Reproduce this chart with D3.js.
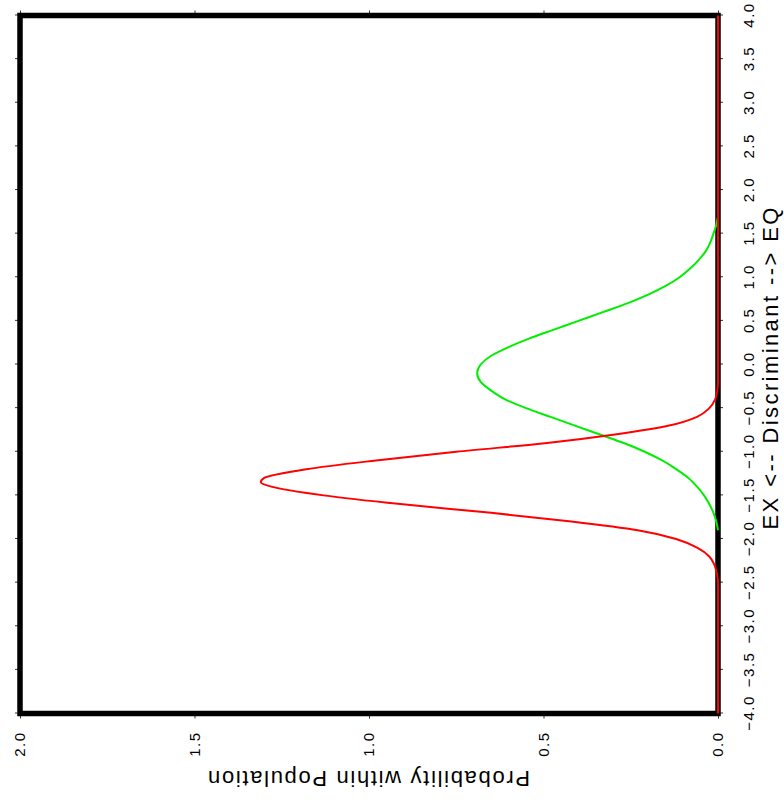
<!DOCTYPE html>
<html>
<head>
<meta charset="utf-8">
<script src="https://cdn.jsdelivr.net/npm/d3@7"></script>
<style>
  body { margin: 0; background: #fff; }
  text { font-family: "Liberation Sans", Arial, sans-serif; fill: #000; }
</style>
</head>
<body>
<div id="content"></div>
<script>
// discriminant positions / probability
var redX = [-4.0, -2.5, -2.4, -2.3, -2.2, -2.1, -2.0, -1.9, -1.8, -1.7, -1.6, -1.5, -1.4, -1.35, -1.3, -1.2, -1.1, -1.0, -0.9, -0.8, -0.7, -0.6, -0.5, -0.4, -0.3, -0.2, 4.0];
var redY = [0, 0, 0.003, 0.01, 0.025, 0.06, 0.12, 0.23, 0.42, 0.65, 0.91, 1.13, 1.28, 1.31, 1.30, 1.18, 0.98, 0.75, 0.49, 0.29, 0.14, 0.06, 0.025, 0.008, 0.002, 0, 0];

var greenX = [-1.9, -1.8, -1.7, -1.6, -1.5, -1.4, -1.3, -1.2, -1.1, -1.0, -0.9, -0.8, -0.7, -0.6, -0.5, -0.4, -0.3, -0.2, -0.1, 0.0, 0.1, 0.2, 0.3, 0.4, 0.5, 0.6, 0.7, 0.8, 0.9, 1.0, 1.1, 1.2, 1.3, 1.4, 1.5, 1.6, 1.7];
var greenY = [0, 0.005, 0.013, 0.025, 0.04, 0.06, 0.085, 0.12, 0.16, 0.21, 0.27, 0.34, 0.41, 0.48, 0.55, 0.61, 0.65, 0.68, 0.69, 0.68, 0.65, 0.60, 0.54, 0.47, 0.40, 0.33, 0.26, 0.20, 0.15, 0.11, 0.08, 0.055, 0.035, 0.022, 0.013, 0.005, 0];

var xTicks = d3.range(-4, 4.01, 0.5);
var yTicks = [0, 0.5, 1.0, 1.5, 2.0];
var xTitle = 'EX <--  Discriminant  --> EQ';
var yTitle = 'Probability within Population';

var W = 698, H = 698;
var svg = d3.select('#content').append('svg')
  .attr('width', 784)
  .attr('height', 804);

// whole plot is drawn normally, then turned a quarter to the left
var g = svg.append('g')
  .attr('transform', 'translate(20,713.5) rotate(-90)');

var x = d3.scaleLinear().domain([-4, 4]).range([0, W]);
var y = d3.scaleLinear().domain([0, 2]).range([H, 0]);
var fmt = d3.format('.1f');

function styleAxis(a){
  a.select('.domain').remove();
  a.selectAll('.tick line').attr('stroke', '#333').attr('stroke-width', 1);
  a.selectAll('.tick text').attr('font-size', 15).attr('letter-spacing', '1.5px')
    .style('font-family', '"Liberation Sans", Arial, sans-serif').attr('fill', '#111');
}

g.append('g').attr('transform', 'translate(0,' + H + ')')
  .call(d3.axisBottom(x).tickValues(xTicks).tickFormat(fmt).tickSize(5).tickPadding(20))
  .call(styleAxis);
g.append('g')
  .call(d3.axisTop(x).tickValues(xTicks).tickFormat('').tickSize(5))
  .call(styleAxis);
g.append('g')
  .call(d3.axisLeft(y).tickValues(yTicks).tickFormat(fmt).tickSize(5).tickPadding(13))
  .call(styleAxis);
g.append('g').attr('transform', 'translate(' + W + ',0)')
  .call(d3.axisRight(y).tickValues(yTicks).tickFormat('').tickSize(5))
  .call(styleAxis);

// frame
g.append('rect')
  .attr('width', W)
  .attr('height', H)
  .attr('fill', 'none')
  .attr('stroke', '#000')
  .attr('stroke-width', 5.5);

var line = d3.line()
  .x(function(d){ return x(d[0]); })
  .y(function(d){ return y(d[1]); })
  .curve(d3.curveMonotoneX);

g.append('path')
  .attr('d', line(d3.zip(greenX, greenY)))
  .attr('fill', 'none')
  .attr('stroke', '#00ee00')
  .attr('stroke-width', 2);

g.append('path')
  .attr('d', line(d3.zip(redX, redY)))
  .attr('fill', 'none')
  .attr('stroke', '#ff0000')
  .attr('stroke-width', 2);

// titles
g.append('text')
  .attr('x', 345)
  .attr('y', H + 60)
  .attr('text-anchor', 'middle')
  .attr('font-size', 22)
  .attr('textLength', 322)
  .attr('lengthAdjust', 'spacing')
  .text(xTitle);

g.append('text')
  .attr('transform', 'translate(-57.5,' + (H / 2) + ') rotate(-90)')
  .attr('text-anchor', 'middle')
  .attr('font-size', 22)
  .attr('textLength', 322)
  .attr('lengthAdjust', 'spacing')
  .text(yTitle);
</script>
</body>
</html>
